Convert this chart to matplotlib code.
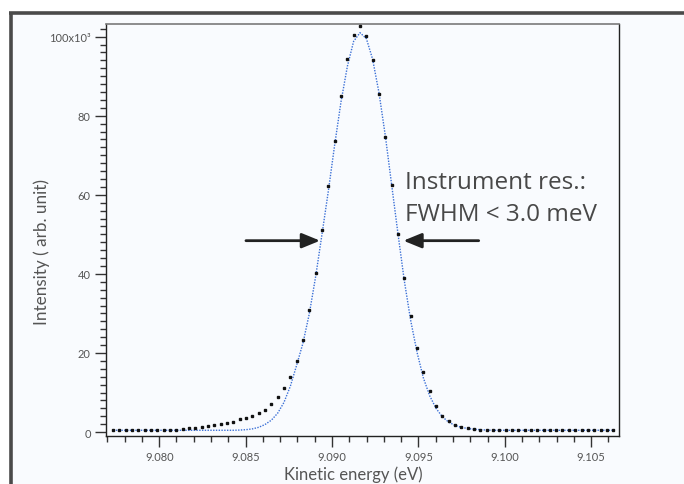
import matplotlib
matplotlib.use("Agg")
import matplotlib.pyplot as plt
from matplotlib.ticker import MultipleLocator, FixedLocator
from matplotlib.patches import Rectangle
from matplotlib.lines import Line2D

plt.rcParams['font.family'] = ['Lato', 'DejaVu Sans']

# --- data (intensity in units of 1e3) ---
energy = [9.07733, 9.07770, 9.07806, 9.07843, 9.07880, 9.07916, 9.07953, 9.07990,
          9.08026, 9.08063, 9.08099, 9.08136, 9.08173, 9.08209, 9.08246, 9.08283,
          9.08319, 9.08356, 9.08393, 9.08429, 9.08466, 9.08502, 9.08539, 9.08576,
          9.08612, 9.08649, 9.08686, 9.08722, 9.08759, 9.08796, 9.08832, 9.08869,
          9.08906, 9.08942, 9.08979, 9.09015, 9.09052, 9.09089, 9.09125, 9.09162,
          9.09199, 9.09235, 9.09272, 9.09309, 9.09345, 9.09382, 9.09418, 9.09455,
          9.09492, 9.09528, 9.09565, 9.09602, 9.09638, 9.09675, 9.09712, 9.09748,
          9.09785, 9.09822, 9.09858, 9.09895, 9.09931, 9.09968, 9.10005, 9.10041,
          9.10078, 9.10115, 9.10151, 9.10188, 9.10225, 9.10261, 9.10298, 9.10334,
          9.10371, 9.10408, 9.10444, 9.10481, 9.10518, 9.10554, 9.10591, 9.10628]

measured = [0.45, 0.42, 0.48, 0.44, 0.46, 0.43, 0.47, 0.45, 0.50, 0.52,
            0.58, 0.70, 0.90, 1.10, 1.34, 1.55, 1.85, 2.05, 2.30, 2.62,
            3.20, 3.55, 4.05, 4.75, 5.60, 7.00, 8.90, 11.1, 14.0, 18.0,
            23.3, 30.9, 40.2, 51.1, 62.2, 73.7, 85.1, 94.3, 100.5, 102.6,
            100.2, 94.1, 85.5, 74.7, 62.6, 50.1, 39.0, 29.4, 21.3, 15.1,
            10.4, 6.5, 4.1, 2.7, 1.85, 1.25, 0.95, 0.75, 0.62, 0.55,
            0.48, 0.52, 0.45, 0.50, 0.47, 0.53, 0.44, 0.49, 0.51, 0.46,
            0.50, 0.43, 0.48, 0.52, 0.45, 0.49, 0.47, 0.44, 0.50, 0.46]

fit = [0.45, 0.45, 0.45, 0.45, 0.45, 0.45, 0.45, 0.45, 0.45, 0.45,
       0.45, 0.45, 0.45, 0.45, 0.45, 0.45, 0.45, 0.45, 0.45, 0.45,
       0.50, 0.60, 0.80, 1.20, 1.90, 3.00, 4.80, 7.50, 11.6, 17.0,
       22.5, 30.0, 39.5, 50.0, 61.0, 72.5, 83.5, 92.5, 98.8, 101.0,
       99.5, 94.3, 85.8, 74.8, 62.6, 50.1, 38.4, 28.3, 20.2, 13.8,
       9.2, 6.0, 3.9, 2.5, 1.7, 1.2, 0.9, 0.7, 0.6, 0.5,
       0.45, 0.45, 0.45, 0.45, 0.45, 0.45, 0.45, 0.45, 0.45, 0.45,
       0.45, 0.45, 0.45, 0.45, 0.45, 0.45, 0.45, 0.45, 0.45, 0.45]

y_ticks = [0, 20, 40, 60, 80, 100]
y_ticklabels = ["0", "20", "40", "60", "80", "100x10³"]
x_ticks = [9.080, 9.085, 9.090, 9.095, 9.100, 9.105]
x_ticklabels = ["9.080", "9.085", "9.090", "9.095", "9.100", "9.105"]

bg = '#f9fbfe'
W, H = 684, 485
fig = plt.figure(figsize=(W / 100, H / 100), dpi=100, facecolor='white')

# outer panel + dark frame (left and top only)
fig.add_artist(Rectangle((10 / W, 0), 1 - 10 / W, 1 - 14 / H, transform=fig.transFigure,
                         facecolor=bg, edgecolor='none', zorder=-10))
fig.add_artist(Line2D([10.5 / W, 10.5 / W], [0, 1 - 13 / H], transform=fig.transFigure,
                      color='#4a4a4a', lw=2.6, solid_capstyle='butt'))
fig.add_artist(Line2D([9 / W, 1], [1 - 14 / H, 1 - 14 / H], transform=fig.transFigure,
                      color='#4a4a4a', lw=2.6, solid_capstyle='butt'))

ax = fig.add_axes([106 / W, 1 - 437 / H, (619 - 106) / W, (437 - 25) / H])
ax.set_facecolor(bg)

ax.plot(energy, fit, linestyle=(0, (1, 1)), color='#3a6fd6', lw=1.0, zorder=2)
ax.plot(energy, measured, linestyle='none', marker='s', markersize=1.9,
        color='#111111', zorder=3)

ax.set_xlim(9.07692, 9.10661)
ax.set_ylim(-1.0, 103.2)

ax.xaxis.set_major_locator(FixedLocator(x_ticks))
ax.set_xticklabels(x_ticklabels)
ax.xaxis.set_minor_locator(MultipleLocator(0.001))
ax.yaxis.set_major_locator(FixedLocator(y_ticks))
ax.set_yticklabels(y_ticklabels)
ax.yaxis.set_minor_locator(MultipleLocator(2))

ax.tick_params(which='major', direction='out', length=8, width=1, color='#333333',
               labelsize=8, labelcolor='#555555', pad=3)
ax.tick_params(which='minor', direction='out', length=4, width=1, color='#333333')

for side in ['left', 'bottom', 'right']:
    ax.spines[side].set_color('#222222')
    ax.spines[side].set_linewidth(1.0)
ax.spines['top'].set_color('#7a7a7a')
ax.spines['top'].set_linewidth(1.2)

ax.set_xlabel("Kinetic energy (eV)", fontsize=12, color='#555555', va='top')
ax.xaxis.set_label_coords(0.483, -0.072)
ax.set_ylabel("Intensity ( arb. unit)", fontsize=12.3, color='#555555', va='center')
ax.yaxis.set_label_coords(-0.125, 0.449)

# FWHM arrows
arrow_kw = dict(arrowstyle='-|>,head_length=1.1,head_width=0.45', color='#222222',
                lw=2.0, shrinkA=0, shrinkB=0)
ax.annotate('', xy=(9.08931, 48.4), xytext=(9.08502, 48.4), arrowprops=arrow_kw)
ax.annotate('', xy=(9.09413, 48.4), xytext=(9.09849, 48.4), arrowprops=arrow_kw)

note_font = ['Open Sans', 'DejaVu Sans']
ax.text(9.09424, 63.2, "Instrument res.:", fontsize=17.5, color='#484848',
        va='center', ha='left', family=note_font)
ax.text(9.09424, 55.1, "FWHM < 3.0 meV", fontsize=17.5, color='#484848',
        va='center', ha='left', family=note_font)

fig.savefig("out.png", dpi=100, facecolor=fig.get_facecolor())
